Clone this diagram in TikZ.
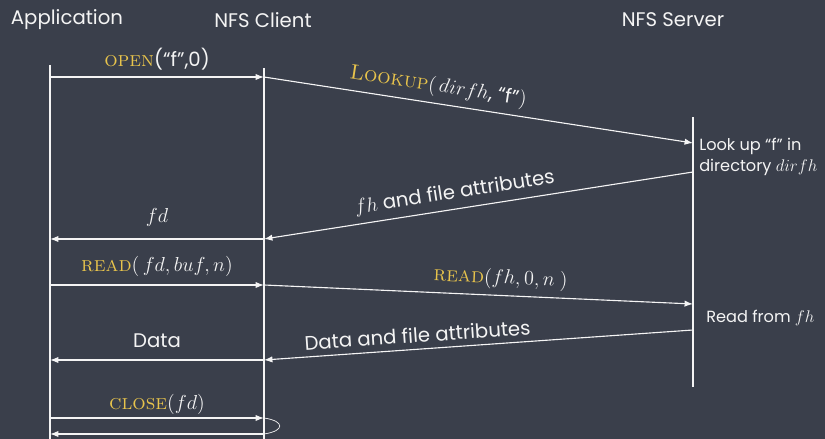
\documentclass[tikz,border=0pt]{standalone}
\usepackage{fontspec}
\newfontfamily\chalkfont{Poppins}
\usepackage{xcolor}
\usetikzlibrary{arrows.meta,positioning}
\definecolor{board}{HTML}{3A3F4B}
\definecolor{chalk}{HTML}{F4F4F4}
\definecolor{keyword}{HTML}{E8C44C}
\newcommand{\kw}[1]{\textcolor{keyword}{\rmfamily\scshape\fontsize{15}{17}\selectfont #1}}
\tikzset{
  every node/.style={
    font=\chalkfont\fontsize{14}{17}\selectfont,
    text=chalk
  },
  lifeline/.style={
    draw=chalk,
    line width=0.9pt
  },
  msg/.style={
    draw=chalk,
    line width=0.8pt,
    -{Latex[length=6pt,width=4.5pt]}
  },
  msgtext/.style={
    above=1pt,
    sloped
  },
  note/.style={
    anchor=west,
    align=left,
    inner sep=0pt,
    font=\chalkfont\fontsize{11.5}{15}\selectfont
  }
}

\begin{document}
\begin{tikzpicture}[x=0.025cm,y=-0.025cm]
    \fill[board] (0,0) rectangle (825,439);
    \useasboundingbox (0,0) rectangle (825,439);

    \node (app) at (67,20) {Application};
    \node (client) at (263,20) {NFS Client};
    \node (server) at (673,20) {NFS Server};

    \coordinate (appTop) at (50,65);
    \coordinate (appBot) at (50,439);
    \coordinate (cliTop) at (264,68);
    \coordinate (cliBot) at (264,439);
    \coordinate (srvTop) at (693,117);
    \coordinate (srvBot) at (693,387);
    \draw [lifeline] (appTop) -- (appBot);
    \draw [lifeline] (cliTop) -- (cliBot);
    \draw [lifeline] (srvTop) -- (srvBot);

    \coordinate (a1) at (50,77);  \coordinate (c1) at (264,77);
    \coordinate (s1) at (693,143);
    \coordinate (s2) at (693,172); \coordinate (c2) at (264,239);
    \coordinate (a2) at (50,239);
    \coordinate (a3) at (50,285); \coordinate (c3) at (264,285);
    \coordinate (s3) at (693,304);
    \coordinate (s4) at (693,330); \coordinate (c4) at (264,360);
    \coordinate (a4) at (50,360);
    \coordinate (a5) at (50,418); \coordinate (c5) at (264,418);
    \coordinate (c6) at (264,434); \coordinate (a6) at (50,434);

    \draw [msg] (a1) -- (c1)
      node [midway, above=1pt] (open) {\kw{open}(“f”,0)};
    \draw [msg] (c1) -- (s1)
      node [pos=0.4, msgtext] (lookup) {\kw{Lookup}$(\,dirfh$, “f”$)$};
    \draw [msg] (s2) -- (c2)
      node [pos=0.55, msgtext] (attrs) {$fh$ and file attributes};
    \draw [msg] (c2) -- (a2)
      node [midway, above=5pt] (fd) {$fd$};
    \draw [msg] (a3) -- (c3)
      node [midway, above=2pt] (readapp) {\kw{read}$(\,fd, buf, n)$};
    \draw [msg] (c3) -- (s3)
      node [pos=0.55, msgtext] (readsrv) {\kw{read}$(fh, 0, n\ )$};
    \draw [msg] (s4) -- (c4)
      node [pos=0.64, msgtext] (dataattrs) {Data and file attributes};
    \draw [msg] (c4) -- (a4)
      node [midway, above=5pt] (data) {Data};
    \draw [msg] (a5) -- (c5)
      node [midway, above=-1pt] (close) {\kw{close}$(fd)$};
    \draw [draw=chalk, line width=0.5pt] (c5) .. controls (285,421) and (285,431) .. (c6);
    \draw [msg] (c6) -- (a6);

    \node [note] (lookupnote) at (699,157) {Look up “f” in\\directory $dirfh$};
    \node [note] (readnote) at (706,318) {Read from $fh$};
\end{tikzpicture}
\end{document}
